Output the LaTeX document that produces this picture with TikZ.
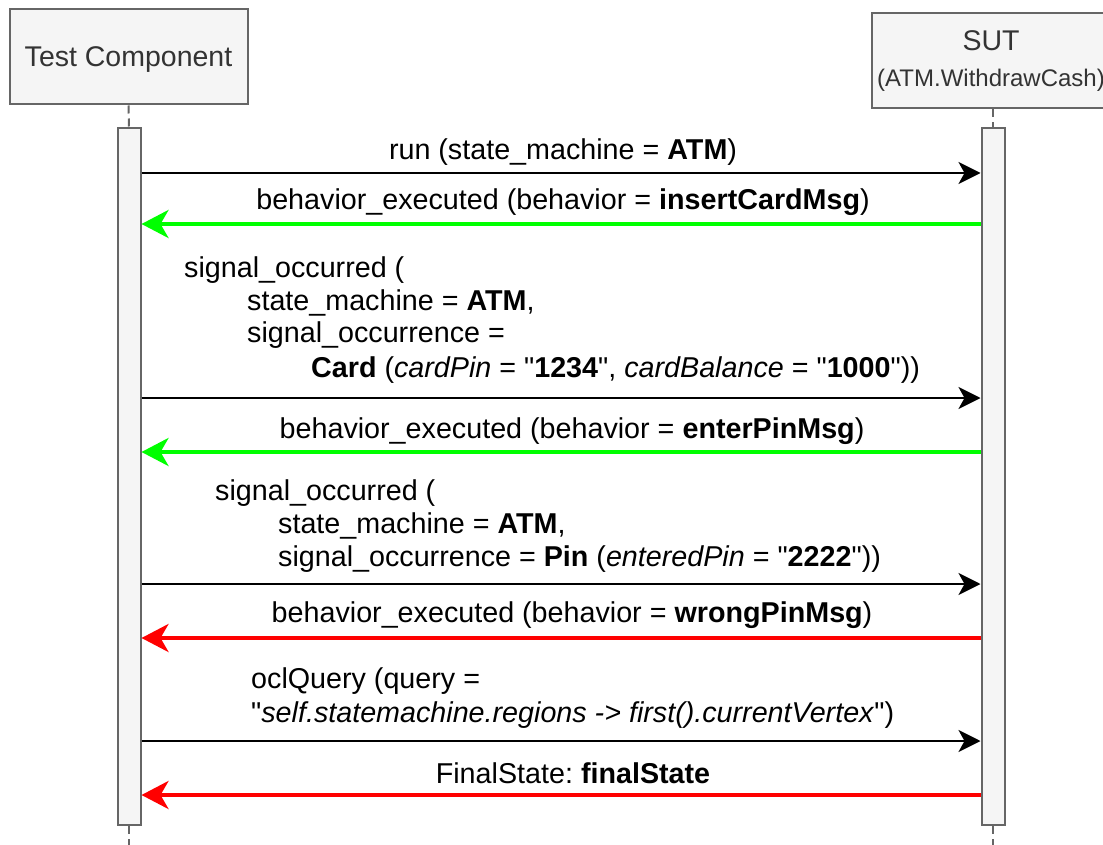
\documentclass[tikz,border=0pt]{standalone}
\usepackage{fontspec}
\setmainfont{Liberation Sans}[Ligatures=TeXOff]
\usetikzlibrary{arrows.meta}
\definecolor{boxfill}{HTML}{F5F5F5}
\definecolor{boxline}{HTML}{666666}
\definecolor{boxtext}{HTML}{333333}
\tikzset{
  lifebox/.style={draw=boxline,line width=2pt,fill=boxfill,minimum width=238pt,minimum height=95pt,inner sep=0pt,text=boxtext,font=\fontsize{28.5}{34}\selectfont,align=center},
  actbar/.style={draw=boxline,line width=2pt,fill=boxfill,minimum width=23pt,minimum height=697pt,inner sep=0pt},
  life/.style={draw=boxline,line width=2pt,dash pattern=on 8pt off 5pt},
  msg/.style={-{Stealth[length=22pt,width=22pt,inset=6pt]},line width=2.4pt,black},
  okreply/.style={-{Stealth[length=27pt,width=28pt,inset=8pt]},line width=4pt,green},
  badreply/.style={-{Stealth[length=27pt,width=28pt,inset=8pt]},line width=4pt,red},
  lbl/.style={font=\fontsize{28.7}{33}\selectfont,inner sep=0pt,align=left},
}
\frenchspacing

\begin{document}
\begin{tikzpicture}[x=1pt,y=-1pt]
 \useasboundingbox (0,0) rectangle (1103,845);
 \clip (0,0) rectangle (1103,845);
 % lifelines
 \node[lifebox,text depth=0pt] (tc) at (128.5,57) {Test Component};
 \node[lifebox] (sut) at (991,61) {SUT\\[2pt]{\fontsize{24}{28}\selectfont(ATM.WithdrawCash)}};
 \node[actbar] (tcbar) at (129,476.5) {};
 \node[actbar] (sutbar) at (993,476.5) {};
 \coordinate (tcend) at (129,845);
 \coordinate (sutend) at (993,845);
 \draw[life] (tc.south) -- (tcbar.north);
 \draw[life] (tcbar.south) -- (tcend);
 \draw[life] (sutbar.north |- sut.south) -- (sutbar.north);
 \draw[life] (sutbar.south) -- (sutend);
 % message rows
 \coordinate (r1) at (0,173);
 \coordinate (r2) at (0,224);
 \coordinate (r3) at (0,398);
 \coordinate (r4) at (0,452);
 \coordinate (r5) at (0,584);
 \coordinate (r6) at (0,638);
 \coordinate (r7) at (0,741);
 \coordinate (r8) at (0,795);
 \draw[msg] (tcbar.east |- r1) -- (sutbar.west |- r1);
 \draw[okreply] (sutbar.west |- r2) -- (tcbar.east |- r2);
 \draw[msg] (tcbar.east |- r3) -- (sutbar.west |- r3);
 \draw[okreply] (sutbar.west |- r4) -- (tcbar.east |- r4);
 \draw[msg] (tcbar.east |- r5) -- (sutbar.west |- r5);
 \draw[badreply] (sutbar.west |- r6) -- (tcbar.east |- r6);
 \draw[msg] (tcbar.east |- r7) -- (sutbar.west |- r7);
 \draw[badreply] (sutbar.west |- r8) -- (tcbar.east |- r8);
 % labels (multi-line ones sit on the baseline of their last line)
 \node[lbl,anchor=base] (l1) at (563,160) {run (state\_machine = \textbf{ATM})};
 \node[lbl,anchor=base] (l2) at (563,210) {behavior\_executed (behavior = \textbf{insertCardMsg})};
 \node[lbl,anchor=base west,font=\fontsize{28.7}{32.5}\selectfont] (l3) at (184,377) {signal\_occurred (\\
  \hspace*{63pt}state\_machine = \textbf{ATM},\\
  \hspace*{63pt}signal\_occurrence =\\[2pt]
  \hspace*{127pt}\textbf{Card} (\textit{cardPin} = "\textbf{1234}", \textit{cardBalance} = "\textbf{1000}"))};
 \node[lbl,anchor=base] (l4) at (572,438) {behavior\_executed (behavior = \textbf{enterPinMsg})};
 \node[lbl,anchor=base west] (l5) at (215,566) {signal\_occurred (\\
  \hspace*{63pt}state\_machine = \textbf{ATM},\\
  \hspace*{63pt}signal\_occurrence = \textbf{Pin} (\textit{enteredPin} = "\textbf{2222}"))};
 \node[lbl,anchor=base west,font=\fontsize{28.7}{34}\selectfont] (l7) at (251,722) {oclQuery (query =\\
  "\textit{self.statemachine.regions -> first().currentVertex}")};
 \node[lbl,anchor=base] (l6) at (572,622) {behavior\_executed (behavior = \textbf{wrongPinMsg})};
 \node[lbl,anchor=base] (l8) at (573,783) {FinalState: \textbf{finalState}};
\end{tikzpicture}
\end{document}
